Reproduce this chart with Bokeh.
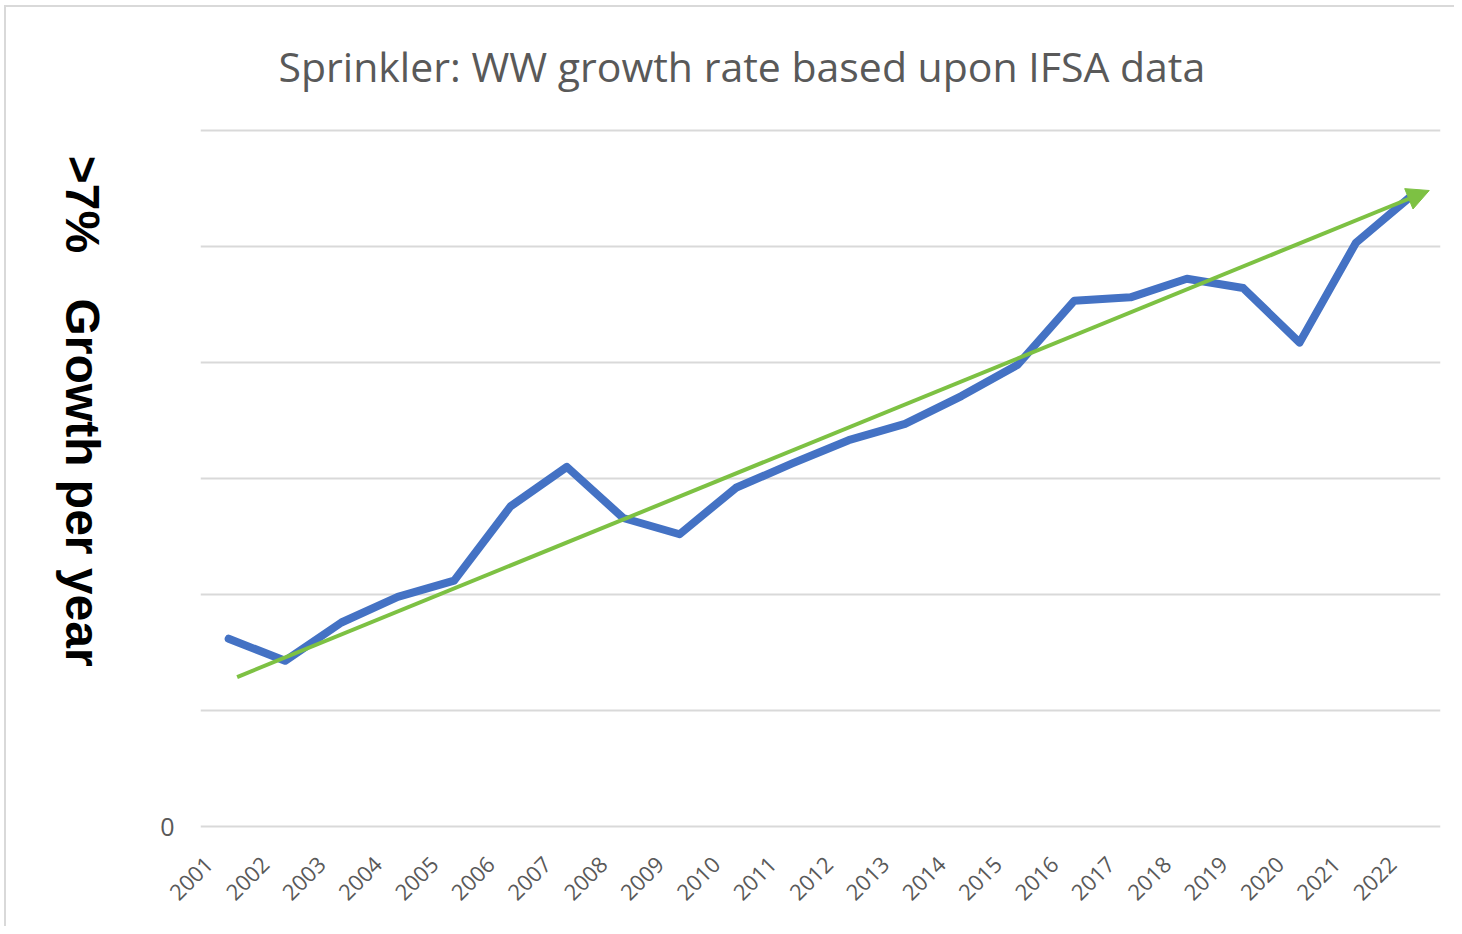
import math
from bokeh.plotting import figure
from bokeh.layouts import row
from bokeh.models import Range1d, FixedTicker, Arrow, NormalHead, CustomJSTickFormatter
from bokeh.core.properties import value
from bokeh.embed import file_html
from bokeh.resources import INLINE

# ---- data ----
years = [2001, 2002, 2003, 2004, 2005, 2006, 2007, 2008, 2009, 2010, 2011,
         2012, 2013, 2014, 2015, 2016, 2017, 2018, 2019, 2020, 2021, 2022]
growth = [1.62, 1.43, 1.76, 1.98, 2.12, 2.76, 3.10, 2.66, 2.52, 2.92, 3.13,
          3.33, 3.47, 3.71, 3.98, 4.53, 4.56, 4.72, 4.64, 4.17, 5.03, 5.44]
trend_x = [0.15, 21.3]          # in year-index units
trend_y = [1.29, 5.48]
y_ticks = [0, 1, 2, 3, 4, 5, 6]
title_text = "Sprinkler: WW growth rate based upon IFSA data"
ylabel_parts = [">7%", "Growth per year"]
ylabel_starts = [5.78, 4.55]    # where each part of the axis title begins (y units)

BLUE = "#4472c4"
GREEN = "#7dc143"
GRID = "#d9d9d9"
TXT = "#595959"

H = 919
TOP, BOTTOM = 111, 88
LW = 130  # width of the side strip holding the rotated axis title
YR = (-0.1, 6.1)

xs = list(range(len(years)))
label_shift = 0.35
label_ticks = [i - label_shift for i in xs]

# ---- side strip with the rotated y-axis title ----
side = figure(width=LW, height=H, output_backend="svg", toolbar_location=None,
              x_range=Range1d(0, LW), y_range=Range1d(*YR),
              min_border_left=0, min_border_right=0, min_border_top=TOP,
              min_border_bottom=BOTTOM, outline_line_color=None)
side.axis.visible = False
side.grid.visible = False
side.text(x=[76, 76], y=ylabel_starts, text=ylabel_parts, angle=-math.pi / 2,
          text_align="left", text_baseline="middle", text_font=value("Liberation Sans"),
          text_font_style="bold", text_font_size="48px", text_color="black")

# ---- main chart ----
p = figure(width=1318, height=H, output_backend="svg", toolbar_location=None,
           x_range=Range1d(-0.5, len(years) - 0.5), y_range=Range1d(*YR),
           min_border_left=64, min_border_right=14, min_border_top=TOP,
           min_border_bottom=BOTTOM, outline_line_color=None)

p.title.text = title_text
p.title.align = "left"
p.title.offset = 78
p.title.standoff = 50
p.title.text_font = "Open Sans"
p.title.text_font_style = "normal"
p.title.text_font_size = "41px"
p.title.text_color = TXT

p.xaxis.ticker = FixedTicker(ticks=label_ticks)
p.xaxis.formatter = CustomJSTickFormatter(args=dict(years=years, shift=label_shift),
                                          code="return String(years[Math.round(tick + shift)]);")
p.xaxis.major_label_orientation = math.pi / 4
p.xaxis.major_label_text_font = "Open Sans"
p.xaxis.major_label_text_font_size = "22px"
p.xaxis.major_label_text_color = TXT
p.xaxis.axis_line_color = None
p.xaxis.major_tick_line_color = None
p.xaxis.minor_tick_line_color = None
p.xaxis.major_label_standoff = 16

p.yaxis.ticker = FixedTicker(ticks=y_ticks)
p.yaxis.major_label_overrides = {t: ("0" if t == 0 else "") for t in y_ticks}
p.yaxis.major_label_text_font = "Open Sans"
p.yaxis.major_label_text_font_size = "25px"
p.yaxis.major_label_text_color = TXT
p.yaxis.axis_line_color = None
p.yaxis.major_tick_line_color = None
p.yaxis.minor_tick_line_color = None
p.yaxis.major_label_standoff = 20

p.xgrid.grid_line_color = None
p.ygrid.grid_line_color = GRID
p.ygrid.grid_line_width = 2

p.line(xs, growth, line_color=BLUE, line_width=8, line_join="round", line_cap="round")

p.add_layout(Arrow(x_start=trend_x[0], y_start=trend_y[0], x_end=trend_x[1], y_end=trend_y[1],
                   line_color=GREEN, line_width=4,
                   end=NormalHead(size=22, fill_color=GREEN, line_color=GREEN)))

layout = row(side, p, spacing=0)
layout.styles = {"margin-left": "4px", "margin-top": "5px",
                 "border-top": "2px solid #d9d9d9", "border-left": "2px solid #d9d9d9"}
open("out.html", "w").write(file_html(layout, INLINE))
